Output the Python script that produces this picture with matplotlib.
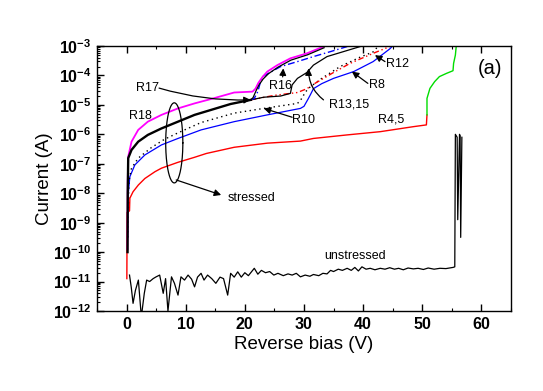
import numpy as np
import matplotlib
matplotlib.use("Agg")
import matplotlib.pyplot as plt
from matplotlib.ticker import MultipleLocator, LogLocator, NullFormatter

plt.rcParams['font.family'] = ['Liberation Sans', 'DejaVu Sans']

# --- data (bias in V, log10 of current in A) ---
r18_v = [0.15, 0.2, 0.28, 0.84, 1.97, 3.6, 5.9, 8.7, 11.5, 14.3, 18.2, 21.3, 21.8, 22.3, 23.0, 23.8, 25.5, 27.7, 30.5, 33.3]
r18_i = [-9.9, -7.6, -6.76, -6.25, -5.85, -5.57, -5.34, -5.12, -4.95, -4.8, -4.58, -4.55, -4.45, -4.25, -4.05, -3.87, -3.65, -3.42, -3.25, -3.02]

r17_v = [0.17, 0.2, 0.28, 0.84, 1.97, 3.6, 5.9, 8.7, 11.5, 14.3, 17.6, 21.0]
r17_i = [-10.0, -8.0, -6.81, -6.53, -6.25, -6.02, -5.80, -5.57, -5.34, -5.17, -4.97, -4.83]
r17b_v = [21.0, 21.4, 21.9, 22.4, 23.1, 24.0, 25.6, 27.8, 30.6, 33.4]
r17b_i = [-4.83, -4.75, -4.52, -4.32, -4.12, -3.94, -3.72, -3.48, -3.30, -3.06]

r16_v = [21.0, 21.6, 22.2, 22.6, 23.0, 26.05, 28.9, 31.6, 34.5, 37.3]
r16_i = [-4.83, -4.78, -4.55, -4.25, -4.04, -3.70, -3.53, -3.36, -3.19, -3.02]

r1315_v = [21.0, 23.2, 26.05, 27.7, 28.0, 28.9, 30.5, 31.6, 33.9, 36.7, 39.5]
r1315_i = [-4.83, -4.74, -4.70, -4.61, -4.32, -4.10, -3.90, -3.65, -3.36, -3.19, -3.02]

r12_v = [21.0, 24.9, 28.9, 30.5, 31.6, 33.3, 35.0, 37.8, 41.7, 44.5]
r12_i = [-4.83, -4.68, -4.58, -4.45, -4.30, -4.10, -3.90, -3.59, -3.25, -3.02]

r10_v = [0.2, 0.4, 0.84, 1.97, 4.2, 6.4, 8.7, 12.6, 18.2, 23.2, 28.9, 29.4, 30.3, 31.0, 33.0, 36.1, 39.5, 41.7, 42.5]
r10_i = [-9.5, -7.6, -7.15, -6.81, -6.45, -6.17, -5.95, -5.6, -5.28, -5.12, -4.95, -4.85, -4.55, -4.4, -4.1, -3.7, -3.38, -3.2, -3.02]

r8_v = [0.2, 0.3, 0.56, 1.4, 3.1, 5.9, 8.7, 12.6, 18.2, 23.8, 29.4, 30.0, 30.7, 31.1, 31.6, 33.0, 35.0, 38.4, 41.7, 44.5, 45.0]
r8_i = [-9.5, -8.0, -7.44, -7.04, -6.70, -6.36, -6.14, -5.85, -5.57, -5.34, -5.12, -5.05, -4.8, -4.65, -4.45, -4.28, -4.1, -3.87, -3.53, -3.1, -3.0]

r45_v = [0.05, 0.1, 0.5, 0.56, 1.1, 2.0, 3.1, 4.8, 5.9, 8.7, 11.5, 13.5, 18.2, 23.8, 29.4, 31.6, 37.3, 42.9, 48.5, 50.7, 50.8]
r45_i = [-10.9, -8.65, -8.6, -8.17, -7.95, -7.72, -7.5, -7.27, -7.15, -6.95, -6.78, -6.65, -6.44, -6.30, -6.23, -6.14, -6.02, -5.91, -5.74, -5.68, -5.34]
r45b_v = [50.8, 50.8, 51.3, 52.1, 52.9, 54.1, 55.2, 55.3, 55.6, 55.75]
r45b_i = [-5.34, -4.78, -4.44, -4.21, -4.04, -3.93, -3.84, -3.59, -3.31, -3.0]

un_v = [0.5, 0.8, 1.1, 1.5, 2.0, 2.5, 3.0, 3.4, 3.9, 4.5, 5.0, 5.6, 6.2, 6.6, 7.0, 7.6, 8.1, 8.7, 9.2, 9.8,
        10.4, 11.0, 11.5, 12.0, 12.6, 13.1, 13.7, 14.4, 15.1, 15.8, 16.4, 17.1, 17.6, 18.2, 18.8, 19.4, 20.0,
        20.6, 21.6, 22.2, 22.8, 23.5, 24.2, 24.9, 25.6, 26.5, 27.3, 28.0, 28.7, 29.4, 30.2, 31.0, 31.6, 32.5,
        33.2, 33.9, 34.5, 35.0, 35.8, 36.5, 37.3, 38.0, 38.6, 39.2, 39.8, 40.5, 41.2, 42.0, 42.9, 43.7, 44.5,
        45.3, 46.0, 46.8, 47.6, 48.5, 49.3, 50.2, 51.0, 52.0, 53.0, 54.0, 55.2, 55.5, 55.6, 55.9, 56.0, 56.3,
        56.4, 56.5, 56.7]
un_i = [-10.78, -11.2, -11.74, -11.3, -10.95, -12.2, -11.4, -10.95, -11.0, -10.9, -10.84, -10.78, -11.4, -10.9,
        -12.0, -10.84, -11.06, -11.46, -10.84, -10.95, -10.78, -10.92, -11.18, -10.85, -10.72, -10.95, -10.78,
        -10.9, -11.06, -10.85, -10.9, -11.46, -10.72, -10.85, -10.67, -10.85, -10.7, -10.8, -10.55, -10.75,
        -10.62, -10.7, -10.66, -10.78, -10.72, -10.8, -10.74, -10.78, -10.72, -10.84, -10.78, -10.82, -10.76,
        -10.80, -10.72, -10.74, -10.62, -10.66, -10.58, -10.62, -10.55, -10.62, -10.52, -10.64, -10.50, -10.58,
        -10.55, -10.60, -10.55, -10.58, -10.53, -10.58, -10.55, -10.60, -10.54, -10.57, -10.55, -10.59, -10.54,
        -10.58, -10.55, -10.56, -10.52, -10.5, -6.0, -6.1, -8.9, -6.0, -6.05, -9.5, -6.1]

fig = plt.figure(figsize=(5.43, 3.91), dpi=100)
ax = fig.add_axes([0.1786, 0.2046, 0.7624, 0.6778])

def p(v, i):
    return np.array(v), 10.0 ** np.array(i)

ax.plot(*p(un_v, un_i), color='k', lw=0.9)
ax.plot(*p(r45_v, r45_i), color='red', lw=1.0)
ax.plot(*p(r45b_v, r45b_i), color='#00dd00', lw=1.0)
ax.plot(*p(r8_v, r8_i), color='blue', lw=0.9)
ax.plot(*p(r10_v, r10_i), color='k', lw=1.0, ls=(0, (1, 2.5)))
ax.plot(*p(r12_v, r12_i), color='red', lw=1.0, ls=(0, (4, 2, 1, 2, 1, 2)))
ax.plot(*p(r1315_v, r1315_i), color='k', lw=0.9)
ax.plot(*p(r16_v, r16_i), color='blue', lw=1.0, ls=(0, (5, 2, 1, 2)))
ax.plot(*p(r18_v, r18_i), color='magenta', lw=1.3)
ax.plot(*p(r17b_v, r17b_i), color='k', lw=0.9)
ax.plot(*p(r17_v, r17_i), color='k', lw=1.7)

ax.set_yscale('log')
ax.set_xlim(-5, 65)
ax.set_ylim(1e-12, 1e-3)
ax.xaxis.set_major_locator(MultipleLocator(10))
ax.xaxis.set_minor_locator(MultipleLocator(5))
ax.yaxis.set_major_locator(LogLocator(base=10, numticks=20))
ax.yaxis.set_minor_locator(LogLocator(base=10, subs=np.arange(2, 10), numticks=20))
ax.yaxis.set_minor_formatter(NullFormatter())
ax.tick_params(which='both', direction='in', top=True, right=False)
ax.tick_params(which='major', length=5, width=1, labelsize=11.5, pad=4)
ax.tick_params(which='minor', length=2.5, width=0.8)
for lab in ax.get_xticklabels() + ax.get_yticklabels():
    lab.set_fontweight('bold')
for s in ax.spines.values():
    s.set_linewidth(1.0)

ax.set_xlabel('Reverse bias (V)', fontsize=13.5, labelpad=3)
ax.set_ylabel('Current (A)', fontsize=13.5, labelpad=0)

# ellipse around the stressed curves
t = np.linspace(0, 2 * np.pi, 200)
ax.plot(8.07 + 1.45 * np.cos(t), 10 ** (-6.29 + 1.36 * np.sin(t)), color='k', lw=0.9)

arr = dict(arrowstyle='-|>', color='k', lw=0.9, mutation_scale=10, shrinkA=0, shrinkB=0)
fs = 9
ax.text(17.1, 10 ** -8.15, 'stressed', fontsize=fs, va='center', ha='left')
ax.annotate('', xy=(16.0, 10 ** -8.06), xytext=(8.4, 10 ** -7.55), arrowprops=arr)
ax.text(38.7, 10 ** -10.13, 'unstressed', fontsize=fs, ha='center', va='center')
ax.text(2.3, 10 ** -5.38, 'R18', fontsize=fs, ha='center', va='center')
ax.text(3.5, 10 ** -4.43, 'R17', fontsize=fs, ha='center', va='center')
ax.annotate('', xy=(21.0, 10 ** -4.83), xytext=(5.5, 10 ** -4.43),
            arrowprops=dict(arr, connectionstyle='arc3,rad=0.08'))
ax.text(26.05, 10 ** -4.36, 'R16', fontsize=fs, ha='center', va='center')
ax.annotate('', xy=(26.5, 10 ** -3.76), xytext=(26.4, 10 ** -4.05), arrowprops=arr)
ax.text(37.6, 10 ** -5.0, 'R13,15', fontsize=fs, ha='center', va='center')
ax.annotate('', xy=(30.8, 10 ** -3.76), xytext=(33.3, 10 ** -4.83),
            arrowprops=dict(arr, connectionstyle='arc3,rad=-0.25'))
ax.text(42.4, 10 ** -4.32, 'R8', fontsize=fs, ha='center', va='center')
ax.annotate('', xy=(38.1, 10 ** -3.87), xytext=(40.8, 10 ** -4.27), arrowprops=arr)
ax.text(45.8, 10 ** -3.61, 'R12', fontsize=fs, ha='center', va='center')
ax.annotate('', xy=(42.0, 10 ** -3.31), xytext=(43.7, 10 ** -3.53), arrowprops=arr)
ax.text(29.9, 10 ** -5.51, 'R10', fontsize=fs, ha='center', va='center')
ax.annotate('', xy=(23.2, 10 ** -5.12), xytext=(28.0, 10 ** -5.42), arrowprops=arr)
ax.text(44.7, 10 ** -5.5, 'R4,5', fontsize=fs, ha='center', va='center')
ax.text(61.5, 10 ** -3.76, '(a)', fontsize=14.5, ha='center', va='center')

fig.savefig('out.png', dpi=100)
